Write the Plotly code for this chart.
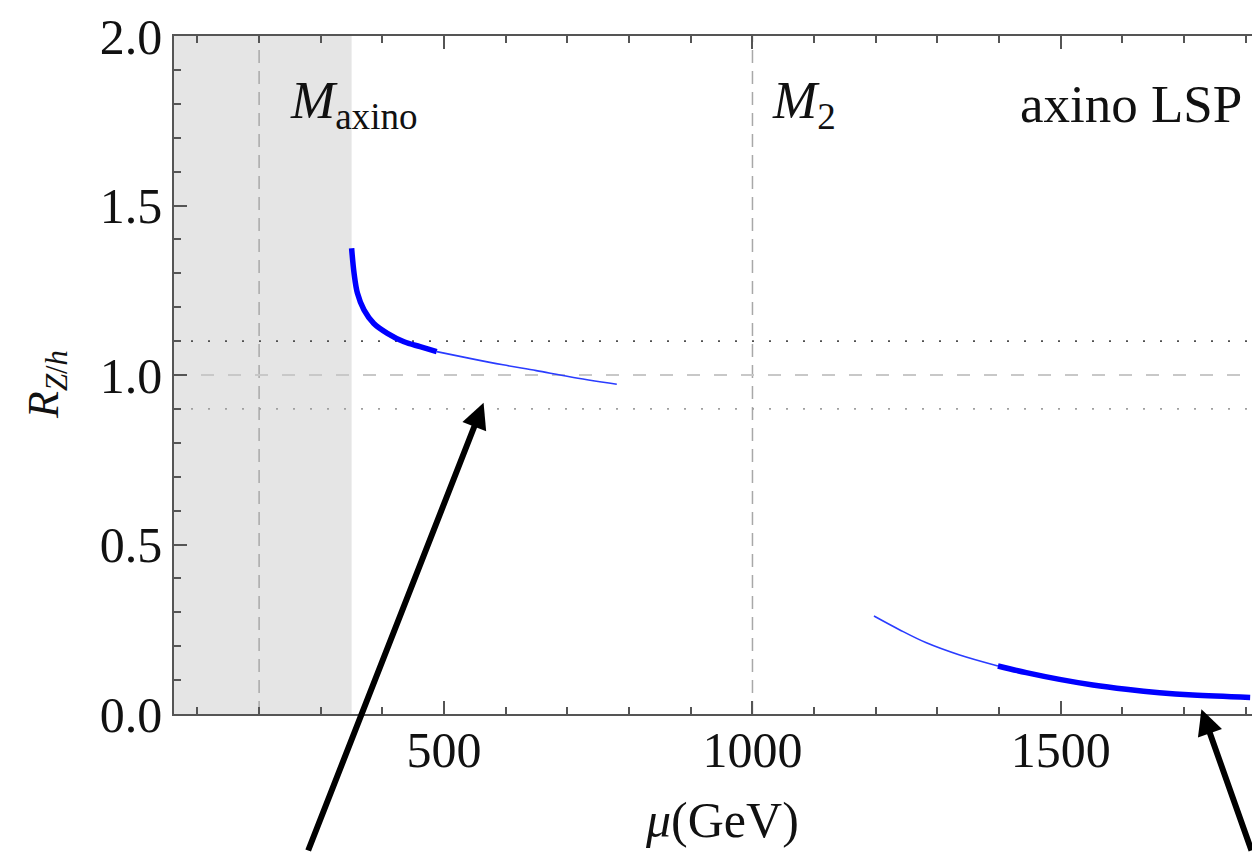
import plotly.graph_objects as go

# ---- data ----
curve1_thick_mu = [350, 354, 359.5, 370, 386, 408, 435, 461, 488]
curve1_thick_r = [1.374, 1.300, 1.241, 1.192, 1.152, 1.123, 1.098, 1.0835, 1.069]
curve1_thin_mu = [488, 541.5, 595.5, 649.5, 703.5, 780]
curve1_thin_r = [1.069, 1.049, 1.030, 1.013, 0.995, 0.9725]
curve2_thin_mu = [1197, 1239, 1282, 1336, 1398]
curve2_thin_r = [0.289, 0.248, 0.210, 0.174, 0.1416]
curve2_thick_mu = [1398, 1444, 1498, 1552, 1606, 1660, 1714, 1807]
curve2_thick_r = [0.1416, 0.122, 0.102, 0.0855, 0.0728, 0.0628, 0.056, 0.049]

m_axino = 200
m_2 = 1000
excluded_mu_max = 350
r_levels = [0.9, 1.0, 1.1]
x_ticks = [500, 1000, 1500]
y_ticks = [0.0, 0.5, 1.0, 1.5, 2.0]
y_tick_labels = ["0.0", "0.5", "1.0", "1.5", "2.0"]
x_range = [62, 1810]
y_range = [0, 2]

# arrow tips (data coords) and tail offsets (px)
arrow_tips = [(564, 0.918), (1728, 0.014)]
arrow_tails = [(-176, 450), (66, 146)]

FONT = "Liberation Serif"
BLUE = "#0000ff"

fig = go.Figure()

fig.add_trace(go.Scatter(x=curve1_thick_mu, y=curve1_thick_r, mode="lines",
                         line=dict(color=BLUE, width=5.5, shape="spline"), showlegend=False))
fig.add_trace(go.Scatter(x=curve1_thin_mu, y=curve1_thin_r, mode="lines",
                         line=dict(color="#2a3cff", width=1.6, shape="spline"), showlegend=False))
fig.add_trace(go.Scatter(x=curve2_thin_mu, y=curve2_thin_r, mode="lines",
                         line=dict(color="#2a3cff", width=1.6, shape="spline"), showlegend=False))
fig.add_trace(go.Scatter(x=curve2_thick_mu, y=curve2_thick_r, mode="lines",
                         line=dict(color=BLUE, width=5.5, shape="spline"), showlegend=False))
# invisible trace to carry the top (mirror) axis
fig.add_trace(go.Scatter(x=[x_range[0]], y=[0], xaxis="x2", yaxis="y", mode="markers",
                         marker=dict(opacity=0), showlegend=False, hoverinfo="skip"))

# excluded gray region
fig.add_shape(type="rect", xref="x", yref="y", x0=x_range[0], x1=excluded_mu_max,
              y0=y_range[0], y1=y_range[1], fillcolor="#e5e5e5", line=dict(width=0), layer="below")
# vertical dashed mass lines
for m in (m_axino, m_2):
    fig.add_shape(type="line", xref="x", yref="y", x0=m, x1=m, y0=y_range[0], y1=y_range[1],
                  line=dict(color="#a8a8a8", width=1.5, dash="13px,8px"), layer="below")
# horizontal reference levels
fig.add_shape(type="line", xref="x", yref="y", x0=x_range[0], x1=x_range[1],
              y0=r_levels[1], y1=r_levels[1],
              line=dict(color="#c8c8c8", width=2, dash="13px,14px"), layer="below")
fig.add_shape(type="line", xref="x", yref="y", x0=x_range[0], x1=x_range[1],
              y0=r_levels[2], y1=r_levels[2],
              line=dict(color="#505050", width=1.6, dash="2px,15px"), layer="below")
fig.add_shape(type="line", xref="x", yref="y", x0=x_range[0], x1=x_range[1],
              y0=r_levels[0], y1=r_levels[0],
              line=dict(color="#a0a0a0", width=1.6, dash="2px,15px"), layer="below")

# text labels
fig.add_annotation(x=247, y=1.80, xref="x", yref="y", xanchor="left", yanchor="middle",
                   text="<i>M</i><sub>axino</sub>", showarrow=False,
                   font=dict(family=FONT, size=53, color="#111"))
fig.add_annotation(x=1028, y=1.80, xref="x", yref="y", xanchor="left", yanchor="middle",
                   text="<i>M</i><sub>2</sub>", showarrow=False,
                   font=dict(family=FONT, size=53, color="#111"))
fig.add_annotation(x=1430, y=1.80, xref="x", yref="y", xanchor="left", yanchor="middle",
                   text="axino LSP", showarrow=False,
                   font=dict(family=FONT, size=53, color="#111"))
# axis titles
fig.add_annotation(x=(722 - 174) / 1078, y=(714 - 820) / 678, xref="paper", yref="paper",
                   xanchor="center", yanchor="middle", text="<i>μ</i>(GeV)", showarrow=False,
                   font=dict(family=FONT, size=50, color="#111"))
fig.add_annotation(x=(46 - 174) / 1078, y=(714 - 385) / 678, xref="paper", yref="paper",
                   xanchor="center", yanchor="middle", textangle=-90,
                   text="<i>R</i><sub><i>Z</i>/<i>h</i></sub>", showarrow=False,
                   font=dict(family=FONT, size=44, color="#111"))

# arrows
for (tx, ty), (ax, ay) in zip(arrow_tips, arrow_tails):
    fig.add_annotation(x=tx, y=ty, xref="x", yref="y", ax=ax, ay=ay, text="",
                       showarrow=True, arrowhead=2, arrowsize=0.85, arrowwidth=6,
                       arrowcolor="black", standoff=0)

axis_common = dict(showgrid=False, zeroline=False, showline=True, linecolor="#555",
                   linewidth=1.6, ticks="inside", tickcolor="#555", tickwidth=1.5)

fig.update_layout(
    width=1252, height=852,
    margin=dict(l=174, r=0, t=36, b=138),
    plot_bgcolor="white", paper_bgcolor="white",
    font=dict(family=FONT, size=50, color="#111"),
    xaxis=dict(range=x_range, tickvals=x_ticks, ticklen=13, ticklabelstandoff=-9,
               tickfont=dict(family=FONT, size=50, color="#111"),
               minor=dict(ticks="inside", ticklen=7, dtick=100, tick0=0,
                          tickcolor="#555", tickwidth=1.5, showgrid=False),
               **axis_common),
    xaxis2=dict(range=x_range, overlaying="x", side="top", anchor="y", matches="x",
                tickvals=x_ticks, ticklen=13, showticklabels=False,
                minor=dict(ticks="inside", ticklen=7, dtick=100, tick0=0,
                           tickcolor="#555", tickwidth=1.5, showgrid=False),
                **axis_common),
    yaxis=dict(range=y_range, tickvals=y_ticks, ticktext=y_tick_labels, ticklen=13,
               tickfont=dict(family=FONT, size=50, color="#111"),
               minor=dict(ticks="inside", ticklen=7, dtick=0.1, tick0=0,
                          tickcolor="#555", tickwidth=1.5, showgrid=False),
               **axis_common),
)

fig.write_html("out.html")
